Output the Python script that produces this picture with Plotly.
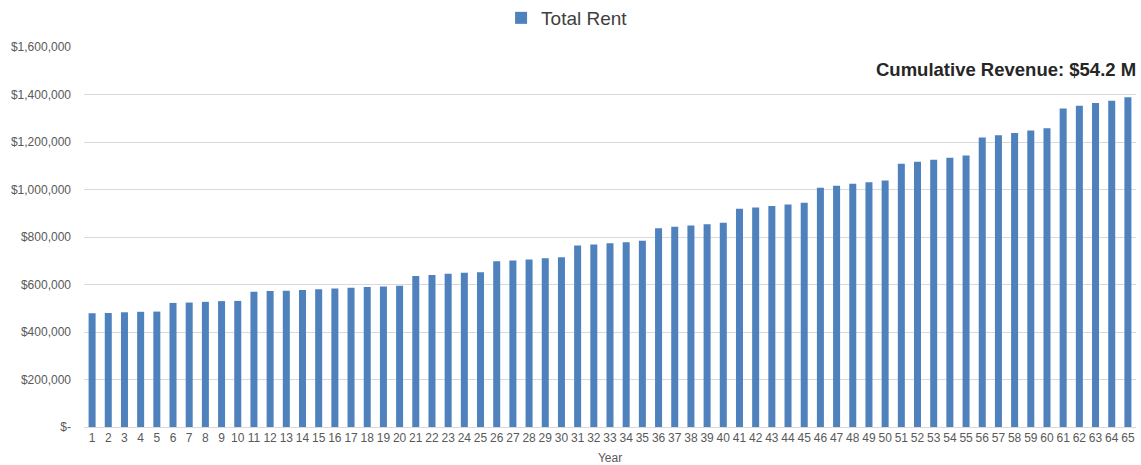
import plotly.graph_objects as go

years = [str(i) for i in range(1, 66)]
total_rent = [
    479000, 480000, 483000, 485000, 486000, 522500, 524000, 527000, 530000, 531000,
    570000, 573000, 574000, 577000, 580000, 583000, 586000, 589000, 592000, 595000,
    636000, 640000, 645000, 649000, 652000, 698000, 701000, 705000, 711000, 715000,
    764000, 768000, 774000, 778000, 784000, 837000, 843000, 848000, 854000, 860000,
    919000, 924000, 931000, 937000, 944000, 1007000, 1016000, 1024000, 1031000, 1038000,
    1108000, 1117000, 1125000, 1134000, 1143000, 1219000, 1228000, 1238000, 1248000, 1258000,
    1341000, 1353000, 1364000, 1374000, 1388000,
]
y_tickvals = [0, 200000, 400000, 600000, 800000, 1000000, 1200000, 1400000, 1600000]
y_ticktext = ["$-", "$200,000", "$400,000", "$600,000", "$800,000",
              "$1,000,000", "$1,200,000", "$1,400,000", "$1,600,000"]
series_name = "Total Rent"
annotation_text = "Cumulative Revenue: $54.2 M"

FONT = "Liberation Sans, Arial, sans-serif"
TXT = "#595959"

fig = go.Figure()
fig.add_trace(go.Bar(x=years, y=total_rent, name=series_name,
                     marker=dict(color="#4F81BD", line=dict(width=0))))

fig.update_layout(
    width=1141, height=465,
    margin=dict(l=84, r=5, t=47, b=38, autoexpand=False),
    paper_bgcolor="white", plot_bgcolor="white",
    font=dict(family=FONT, color=TXT, size=12),
    bargap=0.567,
    showlegend=True,
    legend=dict(orientation="h", xref="container", x=0.497, xanchor="center",
                yref="container", y=1 - 18 / 465, yanchor="middle",
                font=dict(size=19, color="#404040"), bgcolor="rgba(0,0,0,0)",
                itemwidth=30),
    xaxis=dict(type="category", tickfont=dict(size=12, color=TXT), ticks="",
               showline=True, linecolor="#D9D9D9", linewidth=1,
               title=dict(text="Year", font=dict(size=12, color=TXT), standoff=9)),
    yaxis=dict(range=[0, 1600000], tickvals=y_tickvals, ticktext=y_ticktext,
               tickfont=dict(size=12, color=TXT), showgrid=True, gridcolor="#D9D9D9",
               gridwidth=1, zeroline=False, ticks="", ticklabelstandoff=12),
    annotations=[dict(text="<b>" + annotation_text + "</b>", xref="paper", yref="paper",
                      x=1.002, y=0.942, xanchor="right", yanchor="middle", showarrow=False,
                      font=dict(size=18.5, color="#262626", family=FONT))],
)

fig.write_html("out.html")
